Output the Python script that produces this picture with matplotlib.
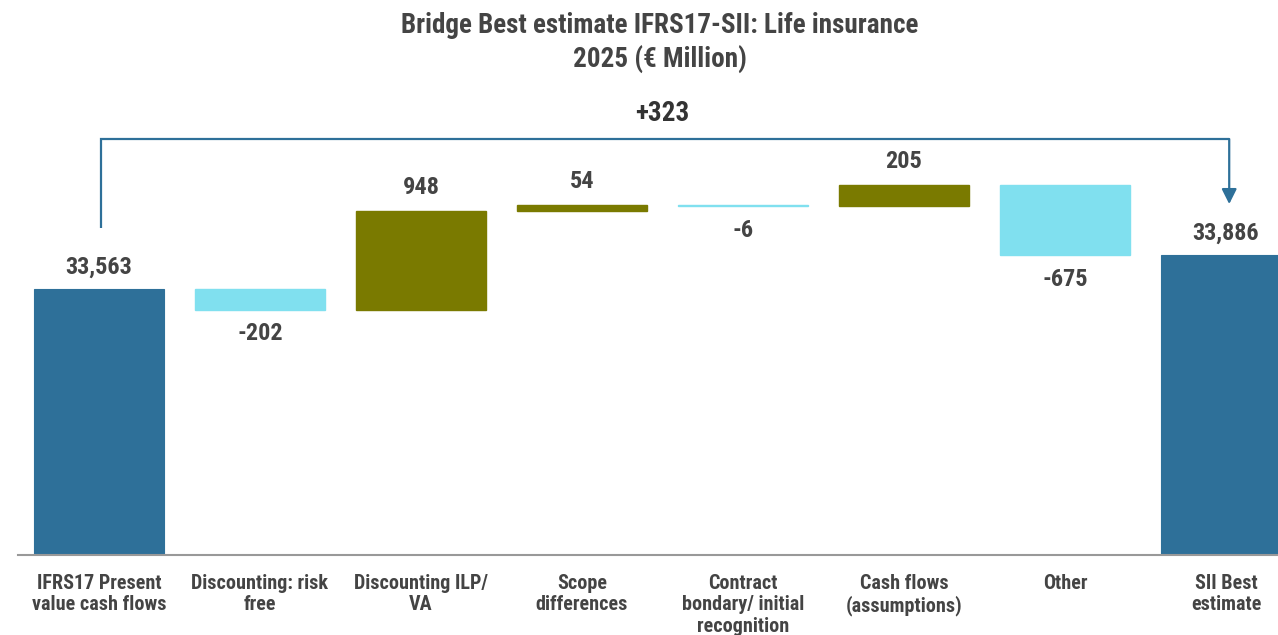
import matplotlib
matplotlib.use("Agg")
import matplotlib.pyplot as plt
from matplotlib import font_manager

# Bridge data (EUR million)
categories = [
    "IFRS17 Present\nvalue cash flows",
    "Discounting: risk\nfree",
    "Discounting ILP/\nVA",
    "Scope\ndifferences",
    "Contract\nbondary/ initial\nrecognition",
    "Cash flows\n(assumptions)",
    "Other",
    "SII Best\nestimate",
]
start_value = 33563
step_values = [-202, 948, 54, -6, 205, -675]
end_value = 33886
axis_floor = 31000

C_TOTAL = "#2e7099"
C_UP = "#7a7a00"
C_DOWN = "#80e0ef"
C_TEXT = "#444444"

names = {f.name for f in font_manager.fontManager.ttflist}
if "Roboto Condensed" in names:
    FAMILY = ["Roboto Condensed", "DejaVu Sans"]
    fs_title, fs_val, fs_total, fs_cat = 19.5, 17.5, 19.5, 14.5
else:
    FAMILY = ["Roboto", "DejaVu Sans"]
    fs_title, fs_val, fs_total, fs_cat = 15, 13, 14.5, 11.5
plt.rcParams["font.family"] = FAMILY

W, H = 1278, 635
fig = plt.figure(figsize=(W / 100, H / 100), dpi=100)
ax = fig.add_axes([18 / W, (H - 555) / H, 1260 / W, (555 - 100) / H])

x = list(range(len(categories)))
bw = 0.81

# Totals
for xi, val in ((0, start_value), (len(categories) - 1, end_value)):
    ax.bar(xi, val - axis_floor, bottom=axis_floor, width=bw, color=C_TOTAL,
           edgecolor=C_TOTAL, linewidth=0.8)
    ax.annotate(f"{val:,}", (xi, val), xytext=(0, 15.5), textcoords="offset points",
                ha="center", va="center", fontsize=fs_val, fontweight="bold", color=C_TEXT)

# Steps
running = start_value
tops = []
for i, d in enumerate(step_values, start=1):
    lo, hi = min(running, running + d), max(running, running + d)
    col = C_UP if d > 0 else C_DOWN
    ax.bar(i, hi - lo, bottom=lo, width=bw, color=col, edgecolor=col, linewidth=1.0)
    tops.append(hi)
    if d > 0:
        ax.annotate(f"{d:,}", (i, hi), xytext=(0, 17), textcoords="offset points",
                    ha="center", va="center", fontsize=fs_val, fontweight="bold", color=C_TEXT)
    else:
        ax.annotate(f"{d:,}", (i, lo), xytext=(0, -17.5), textcoords="offset points",
                    ha="center", va="center", fontsize=fs_val, fontweight="bold", color=C_TEXT)
    running += d

# Overall change bracket
bracket_y = max(tops + [start_value, end_value]) + 440
left_y0 = start_value + 580
right_y1 = end_value + 490
last = len(categories) - 1
ax.plot([0.01, 0.01, last + 0.02], [left_y0, bracket_y, bracket_y],
        color=C_TOTAL, lw=1.6, solid_joinstyle="miter", solid_capstyle="butt")
ax.annotate("", xy=(last + 0.02, right_y1), xytext=(last + 0.02, bracket_y),
            arrowprops=dict(arrowstyle="-|>,head_length=0.9,head_width=0.45",
                            color=C_TOTAL, lw=1.6, shrinkA=0, shrinkB=0))
ax.annotate(f"{end_value - start_value:+,}", (last / 2, bracket_y), xytext=(0, 18.5),
            textcoords="offset points", ha="center", va="center",
            fontsize=fs_total, fontweight="bold", color="#333333")

ax.set_xlim(-0.503, 7.323)
ax.set_ylim(axis_floor, axis_floor + 455 * 9.62)
for s in ("top", "right", "left"):
    ax.spines[s].set_visible(False)
ax.spines["bottom"].set_color("#999999")
ax.spines["bottom"].set_linewidth(1.5)
ax.set_yticks([])
ax.set_xticks(x)
ax.set_xticklabels(categories, fontsize=fs_cat, fontweight="bold", color=C_TEXT,
                   linespacing=1.18, va="top")
ax.tick_params(axis="x", length=0, pad=13.5)

fig.text(0.5 * (403 + 916) / W, 1 - 43 / H,
         "Bridge Best estimate IFRS17-SII: Life insurance\n2025 (€ Million)",
         ha="center", va="center", fontsize=fs_title, fontweight="bold",
         color=C_TEXT, linespacing=1.3)

fig.savefig("out.png", dpi=100)
